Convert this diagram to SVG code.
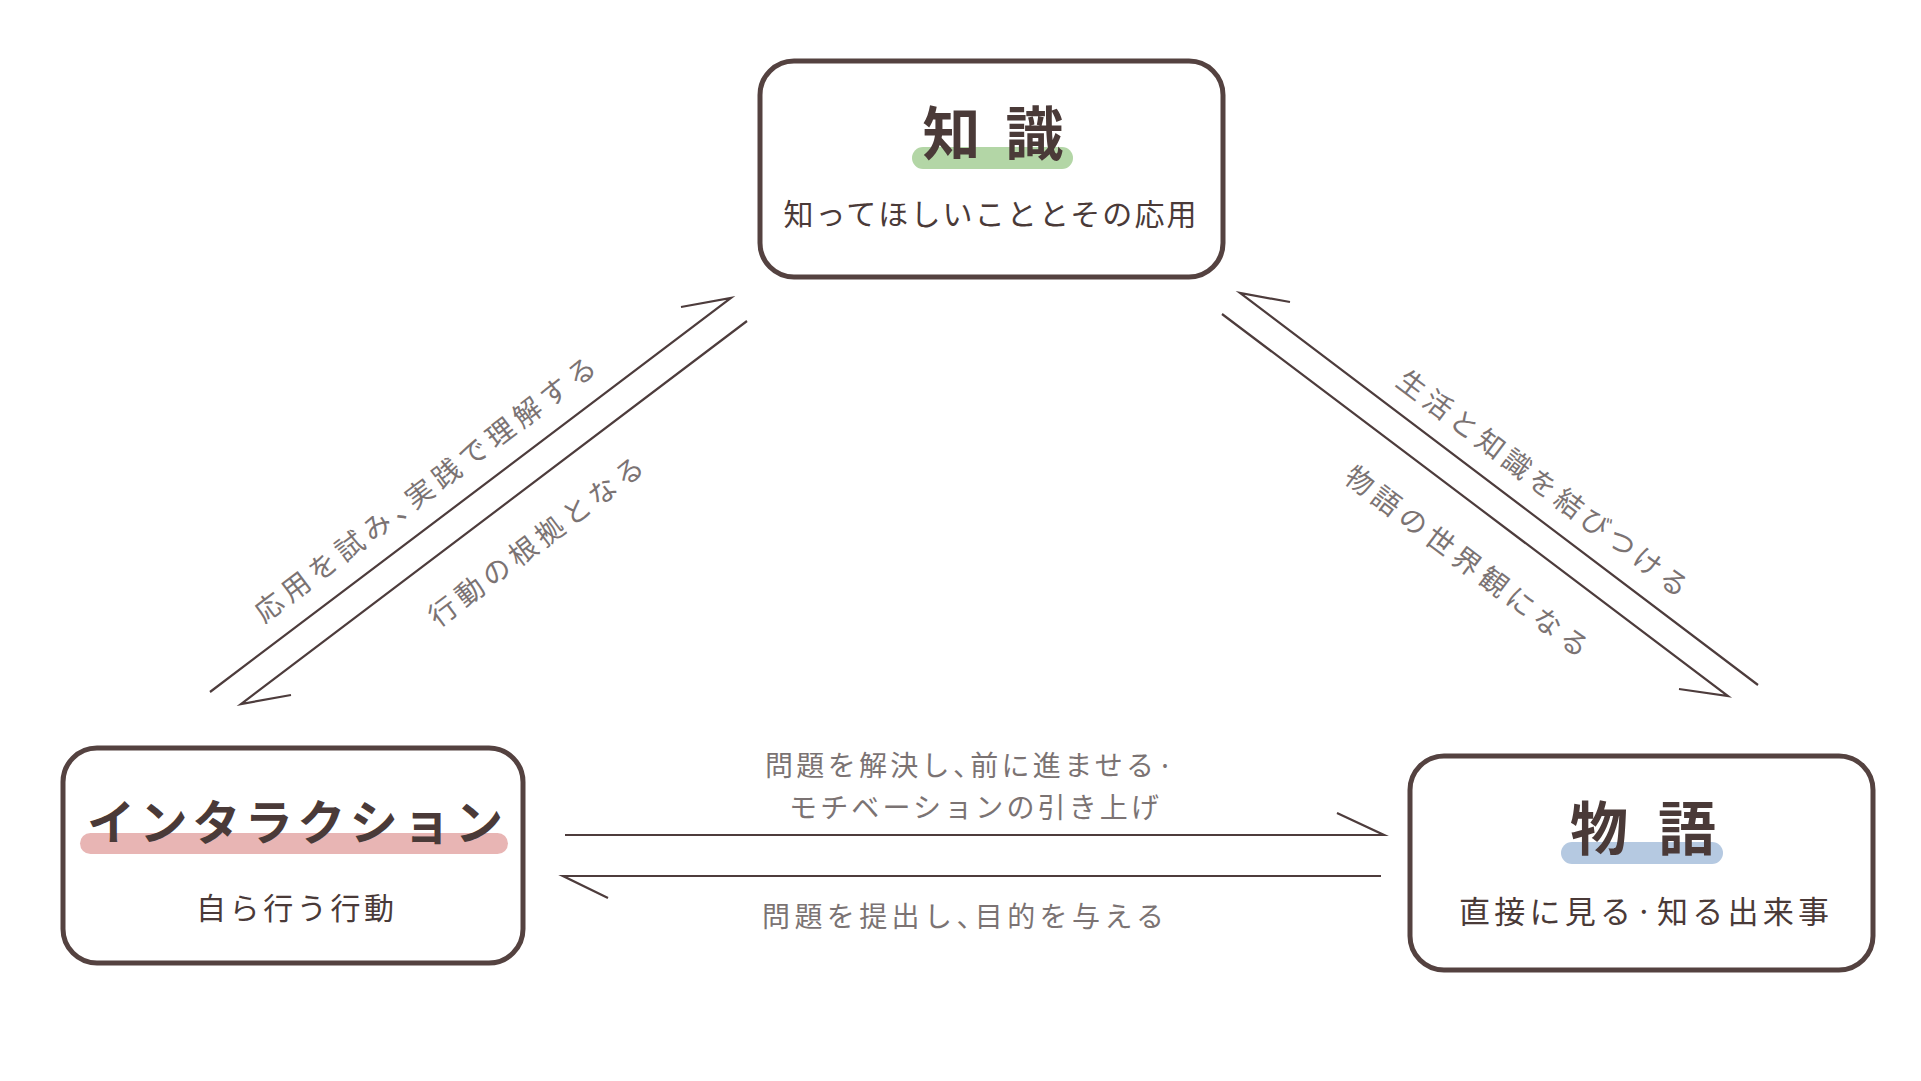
<svg xmlns="http://www.w3.org/2000/svg" width="1921" height="1081" viewBox="0 0 1921 1081">
<style>
.box{fill:#ffffff;stroke:#544240;stroke-width:5}
.hl{stroke:none}
.title{font-family:"Noto Sans CJK JP","Noto Sans",sans-serif;font-weight:700;fill:#4a3a38;text-anchor:middle;dominant-baseline:central}
.sub{font-family:"Noto Sans CJK JP","Noto Sans",sans-serif;font-weight:400;fill:#4a3a38;text-anchor:middle;dominant-baseline:central;font-size:30px}
.lbl{font-family:"Noto Sans CJK JP","Noto Sans",sans-serif;font-weight:400;fill:#7b7373;text-anchor:middle;dominant-baseline:central;font-size:28px}
.h{font-feature-settings:"halt"}
.arr{fill:none;stroke:#4d3c3c;stroke-width:2.2;stroke-linejoin:miter;stroke-miterlimit:10;stroke-linecap:butt}
</style>
<rect x="0" y="0" width="1921" height="1081" fill="#ffffff"/>
<g id="connectors">
  <path class="arr" d="M210,692 L731,298 L681,307"/>
  <path class="arr" d="M747,321 L241,704 L291,695"/>
  <path class="arr" d="M1758,685 L1240,293 L1290,302"/>
  <path class="arr" d="M1222,314 L1728,696 L1679,689"/>
  <path class="arr" d="M565,835 L1384,835 L1337,813"/>
  <path class="arr" d="M1381,876 L563,876 L608,898"/>
  <text class="lbl" textLength="419" lengthAdjust="spacing" transform="translate(424,488) rotate(-37)">応用を試み<tspan class="h">、</tspan>実践で理解する</text>
  <text class="lbl" textLength="261" lengthAdjust="spacing" transform="translate(535,540) rotate(-37)">行動の根拠となる</text>
  <text class="lbl" textLength="356" lengthAdjust="spacing" transform="translate(1544,482) rotate(37)">生活と知識を結びつける</text>
  <text class="lbl" textLength="297" lengthAdjust="spacing" transform="translate(1468,560) rotate(37)">物語の世界観になる</text>
  <text class="lbl" textLength="408" lengthAdjust="spacing" x="969" y="764">問題を解決し<tspan class="h">、</tspan>前に進ませる·</text>
  <text class="lbl" textLength="370" lengthAdjust="spacing" x="974" y="806">モチベーションの引き上げ</text>
  <text class="lbl" textLength="402" lengthAdjust="spacing" x="963" y="915">問題を提出し<tspan class="h">、</tspan>目的を与える</text>
</g>
<g id="node-knowledge">
  <rect class="box" x="760" y="61" width="463" height="216" rx="34"/>
  <rect class="hl" x="912" y="147" width="161" height="22" rx="11" fill="#b3d6a6"/>
  <text class="title" x="993" y="130" style="font-size:58px" textLength="141" lengthAdjust="spacing">知識</text>
  <text class="sub" x="990" y="212" textLength="413" lengthAdjust="spacing">知ってほしいこととその応用</text>
</g>
<g id="node-interaction">
  <rect class="box" x="63" y="748" width="460" height="215" rx="34"/>
  <rect class="hl" x="80" y="833" width="428" height="21" rx="10.5" fill="#e8b5b4"/>
  <text class="title" x="295" y="819" style="font-size:48px" textLength="416" lengthAdjust="spacing">インタラクション</text>
  <text class="sub" x="295" y="906" textLength="198" lengthAdjust="spacing">自ら行う行動</text>
</g>
<g id="node-story">
  <rect class="box" x="1410" y="756" width="463" height="214" rx="34"/>
  <rect class="hl" x="1561" y="842" width="162" height="22" rx="11" fill="#b5c9e1"/>
  <text class="title" x="1643" y="825" style="font-size:58px" textLength="146" lengthAdjust="spacing">物語</text>
  <text class="sub" x="1644" y="909" style="font-size:31px" textLength="370" lengthAdjust="spacing">直接に見る·知る出来事</text>
</g>
</svg>
